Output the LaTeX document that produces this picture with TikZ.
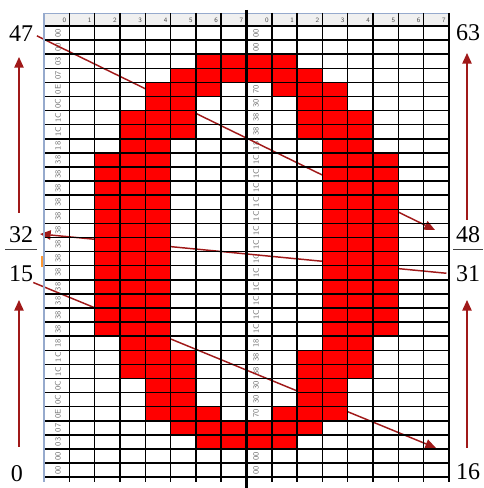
\documentclass[tikz,border=0pt]{standalone}
\usepackage{fontspec}
\setmainfont{Liberation Serif}
\usetikzlibrary{arrows.meta}
\definecolor{glyphred}{RGB}{255,0,0}
\definecolor{arrowred}{RGB}{160,25,25}
\definecolor{rulerblue}{RGB}{150,170,205}

\begin{document}
\begin{tikzpicture}[x=0.75pt, y=0.75pt,
    lbl/.style={font=\fontsize{18}{20}\selectfont, inner sep=0pt, anchor=base},
    flow/.style={arrowred, line width=1.1pt, -{Triangle[length=8pt,width=7pt]}},
    hexcode/.style={font=\fontsize{6}{6}\sffamily, text=black!55, rotate=90, inner sep=0pt},
    rulernum/.style={font=\fontsize{5}{5}\sffamily, text=black!70, inner sep=0pt},
    gridline/.style={black, line width=1.1pt}]
    \def\cw{25.3125}
    \def\rh{14.1}
    \useasboundingbox (0,0) rectangle (484,488);

    % ruler strip on top
    \fill[gray!12] (44,462) rectangle (449,475);
    \draw[rulerblue] (44,475) -- (449,475);
    \foreach \k in {0,...,7} {
        \node[rulernum] at ({44+(\k+1)*\cw-5}, 468) {\k};
        \node[rulernum] at ({44+(\k+9)*\cw-5}, 468) {\k};
    }

    % row codes in the two label columns
    \foreach \r/\lo/\hi in {0/00/00, 1/00/00, 2/03/C0, 3/07/E0, 4/0E/70, 5/0C/30,
        6/1C/38, 7/1C/38, 8/18/18, 22/18/18, 23/1C/38, 24/1C/38, 25/0C/30,
        26/0C/30, 27/0E/70, 28/07/E0, 29/03/C0, 30/00/00, 31/00/00} {
        \node[hexcode] at (58, {462-(\r+0.5)*\rh}) {\lo};
        \node[hexcode] at (256, {462-(\r+0.5)*\rh}) {\hi};
    }
    \foreach \r in {9,...,21} {
        \node[hexcode] at (58, {462-(\r+0.5)*\rh}) {38};
        \node[hexcode] at (256, {462-(\r+0.5)*\rh}) {1C};
    }

    % labels
    \node[lbl] (n47) at (21,446) {47};
    \node[lbl] (n32) at (21,245) {32};
    \node[lbl] (n15) at (21,206) {15};
    \node[lbl] (n0) at (17,7) {0};
    \node[lbl] (n63) at (468,447) {63};
    \node[lbl] (n48) at (468,245) {48};
    \node[lbl] (n31) at (468,206) {31};
    \node[lbl] (n16) at (468,8) {16};
    \draw[black!75] (5,239) -- (37,239);
    \draw[black!75] (453,239) -- (483,239);
    \fill[orange!80] (41,221) rectangle (45,232);

    % scan order
    \coordinate (b0) at (19,41);
    \coordinate (t15) at (19,188);
    \coordinate (b32) at (19,275);
    \coordinate (t47) at (19,431);
    \coordinate (b16) at (467,40);
    \coordinate (t31) at (467,188);
    \coordinate (b48) at (467,268);
    \coordinate (t63) at (467,435);
    \coordinate (e16) at (436,40);
    \coordinate (e32) at (40,254);
    \coordinate (e48) at (435,258);
    \draw[flow] (b0) -- (t15);
    \draw[flow] (n15.south east) -- (e16);
    \draw[flow] (b16) -- (t31);
    \draw[flow, shorten <=7pt] (n31.west) -- (e32);
    \draw[flow] (b32) -- (t47);
    \draw[flow, shorten <=3pt] (n47.east) -- (e48);
    \draw[flow] (b48) -- (t63);

    % the glyph "0", 16 x 32 cells
    \foreach \r/\a/\b in {2/6/9, 3/5/10, 4/4/6, 4/9/11, 5/4/5, 5/10/11,
        6/3/5, 6/10/12, 7/3/5, 7/10/12, 8/3/4, 8/11/12,
        22/3/4, 22/11/12, 23/3/5, 23/10/12, 24/3/5, 24/10/12, 25/4/5, 25/10/11,
        26/4/5, 26/10/11, 27/4/6, 27/9/11, 28/5/10, 29/6/9}
        \fill[glyphred] ({44+\a*\cw}, {462-(\r+1)*\rh}) rectangle ({44+(\b+1)*\cw}, {462-\r*\rh});
    \foreach \r in {9,...,21} {
        \fill[glyphred] ({44+2*\cw}, {462-(\r+1)*\rh}) rectangle ({44+5*\cw}, {462-\r*\rh});
        \fill[glyphred] ({44+11*\cw}, {462-(\r+1)*\rh}) rectangle ({44+14*\cw}, {462-\r*\rh});
    }

    % grid
    \foreach \r in {0,...,32}
        \draw[gridline] (44, {462-\r*\rh}) -- (449, {462-\r*\rh});
    \foreach \c in {1,...,16}
        \draw[gridline] ({44+\c*\cw}, 475) -- ({44+\c*\cw}, 6);
    \draw[rulerblue, line width=1pt] (44,475) -- (44,6);
    \draw[line width=2.4pt] ({44+8*\cw}, 478) -- ({44+8*\cw}, 0);
\end{tikzpicture}
\end{document}
